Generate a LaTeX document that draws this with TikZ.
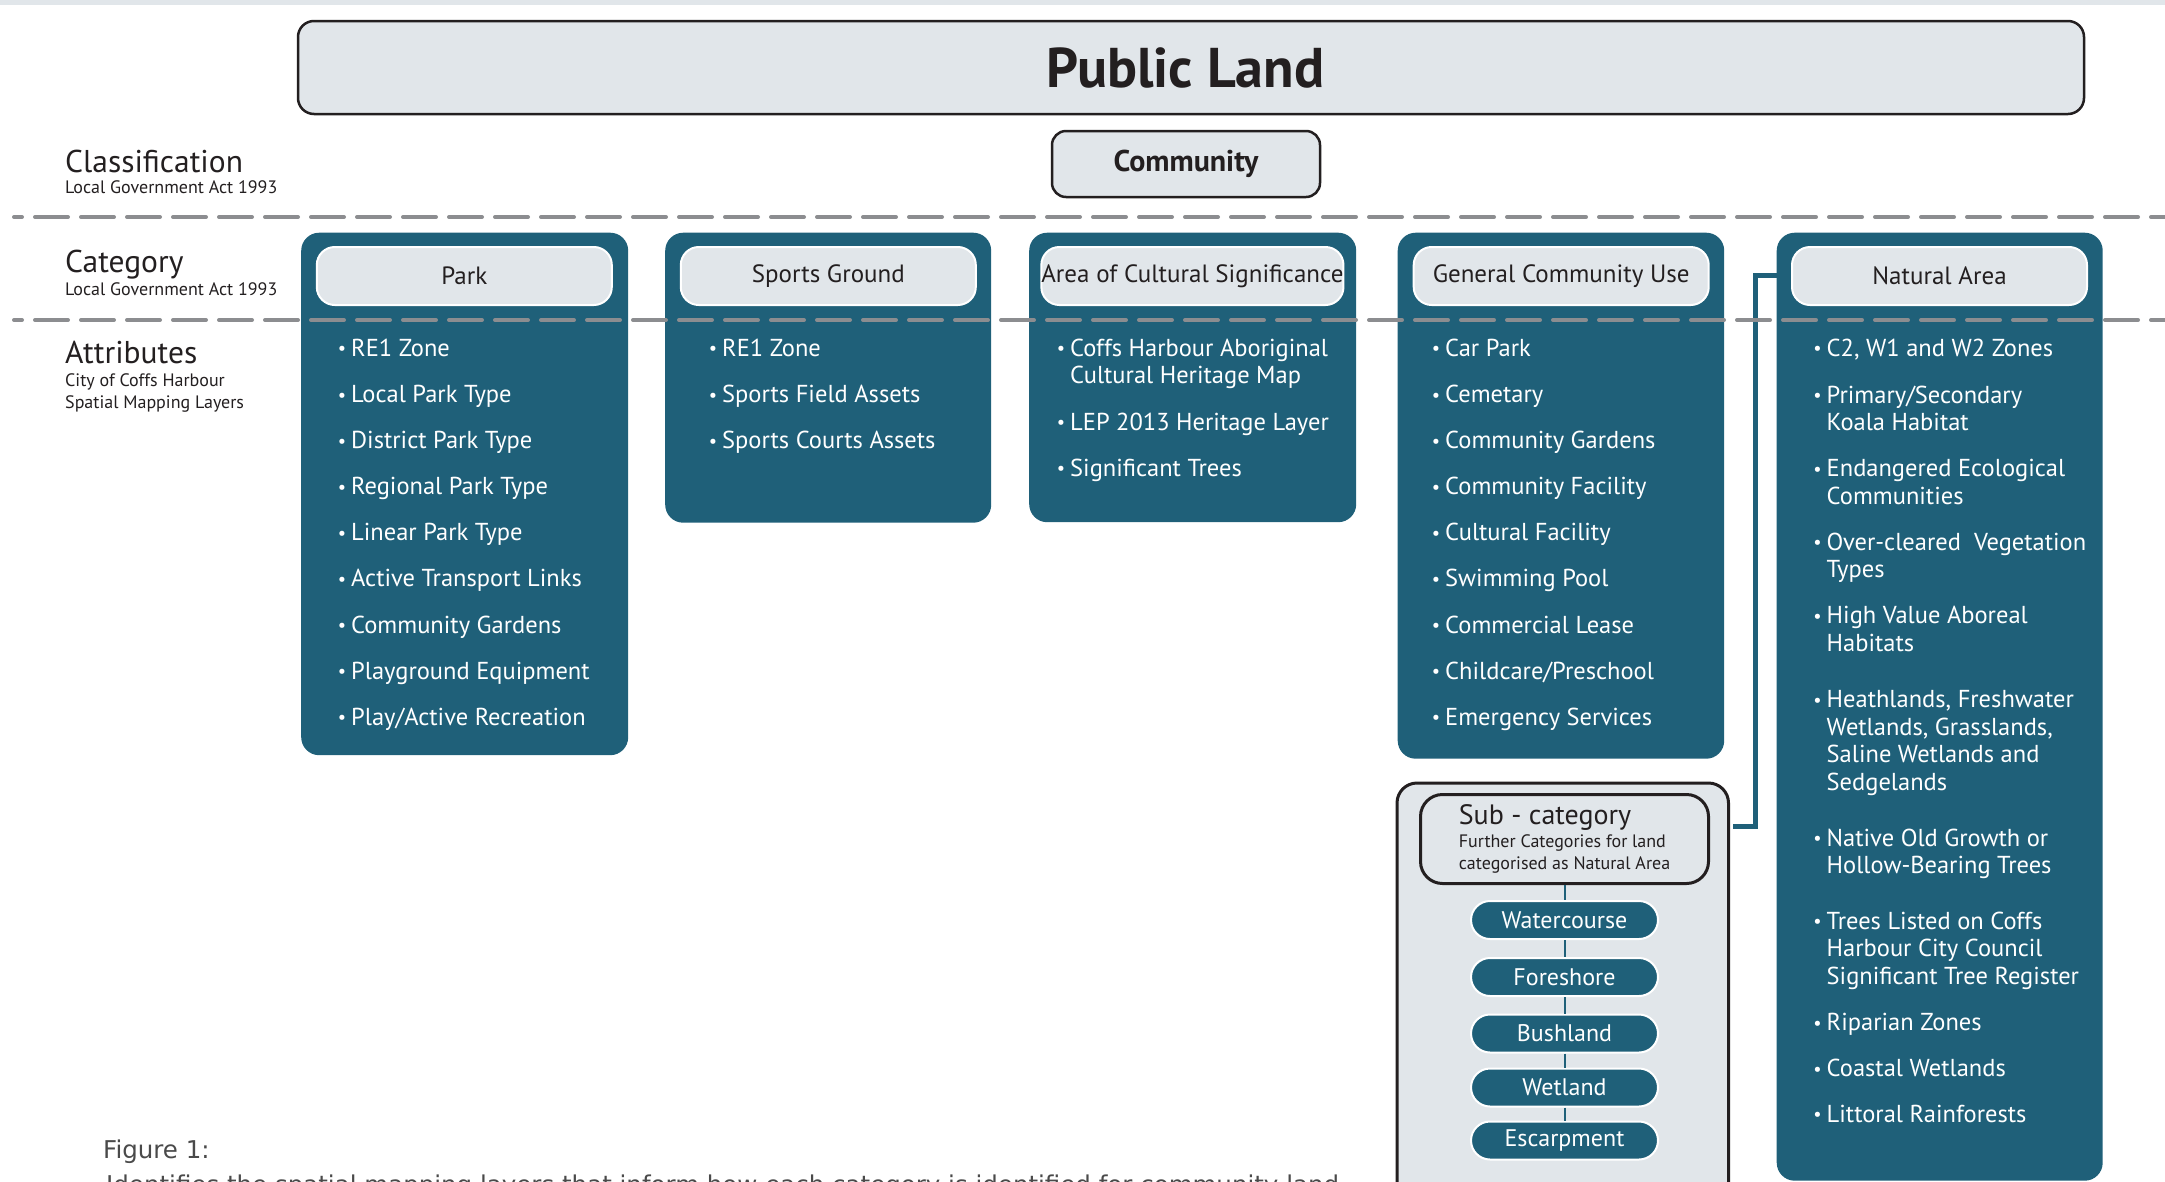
\documentclass[tikz,border=0pt]{standalone}
\usepackage{fontspec}
\usepackage{graphicx}
\setmainfont{PT Sans}
\newfontfamily\captionfont{DejaVu Sans}

\definecolor{deepteal}{HTML}{1F6079}
\definecolor{paleg}{HTML}{E1E6EA}
\definecolor{inkdark}{HTML}{231F20}
\definecolor{dashgrey}{HTML}{8C8D90}
\definecolor{capgrey}{HTML}{4A4A4A}

% small bullet hung to the left of the first line of an item
\newcommand\bul{\llap{\raisebox{1.5pt}{\scalebox{0.75}{\textbullet}}\hspace{5pt}}}

\tikzset{
  lightbox/.style={draw=inkdark, line width=2.5pt, fill=paleg, rounded corners=16pt,
    inner sep=0pt, text=inkdark},
  catbox/.style={fill=deepteal, rounded corners=18pt, inner sep=0pt, anchor=north west},
  headbox/.style={draw=white, line width=2pt, fill=paleg, rounded corners=18pt,
    minimum width=295pt, minimum height=58pt, inner sep=0pt, text=inkdark,
    font=\fontsize{25}{30}\selectfont},
  % multi-line items are placed at the baseline of their last line
  item/.style={anchor=base west, inner sep=0pt, text=white, align=left,
    font=\fontsize{24.5}{27.5}\selectfont},
  sidehead/.style={anchor=base west, inner sep=0pt, text=inkdark,
    font=\fontsize{31.5}{36}\selectfont},
  sidenote/.style={anchor=base west, inner sep=0pt, text=inkdark,
    font=\fontsize{18}{22}\selectfont},
  pill/.style={draw=white, line width=2pt, fill=deepteal, rounded corners=19pt,
    minimum width=187pt, minimum height=38pt, inner sep=0pt, text=white,
    font=\fontsize{24}{28}\selectfont},
  divider/.style={dashgrey, line width=4pt, line cap=round,
    dash pattern=on 33pt off 13pt, dash phase=25pt},
  link/.style={deepteal, line width=5pt},
  chain/.style={deepteal, line width=2pt},
  capt/.style={anchor=base west, inner sep=0pt, text=capgrey,
    font=\captionfont\fontsize{24.5}{30}\selectfont},
}

\begin{document}
\begin{tikzpicture}[x=1pt,y=-1pt]
\path[use as bounding box] (0,0) rectangle (2165,1181);
\clip (0,0) rectangle (2165,1181);

% thin band along the top edge
\fill[paleg] (0,0) rectangle (2165,5);

% title and classification
\node[lightbox, minimum width=1786pt, minimum height=93pt,
  font=\fontsize{56}{62}\selectfont\bfseries] (pub) at (1191,67.5) {\hspace*{-11pt}Public Land};
\node[lightbox, minimum width=268pt, minimum height=66pt, rounded corners=14pt,
  font=\fontsize{30}{34}\selectfont\bfseries] (comm) at (1186,164) {Community};

% row labels on the left
\node[sidehead] (lblclass) at (65,172) {Classification};
\node[sidenote] (lblclassnote) at (65,193) {Local Government Act 1993};
\node[sidehead] (lblcat) at (65,272) {Category};
\node[sidenote] (lblcatnote) at (65,295) {Local Government Act 1993};
\node[sidehead] (lblattr) at (65,363) {Attributes};
\node[sidenote, align=left] (lblattrnote) at (65,408)
  {City of Coffs Harbour\\Spatial Mapping Layers};

% category columns
\node[catbox, minimum width=327pt, minimum height=522.5pt] (parkbox) at (301,232.5) {};
\node[catbox, minimum width=326pt, minimum height=290pt] (sportbox) at (665,232.5) {};
\node[catbox, minimum width=327pt, minimum height=289.5pt] (areabox) at (1029,232.5) {};
\node[catbox, minimum width=326.5pt, minimum height=526pt] (gcubox) at (1397.5,232.5) {};
\node[catbox, minimum width=326pt, minimum height=948pt] (natbox) at (1776.5,232.5) {};

\node[headbox] (parkhd) at (464.3,276) {Park};
\node[headbox] (sporthd) at (828.3,276) {Sports Ground};
\node[headbox] (areahd) at (1192.4,276) {Area of Cultural Significance};
\node[headbox] (gcuhd) at (1561.2,276) {General Community Use};
\node[headbox] (nathd) at (1939.5,276) {Natural Area};

% attribute lists
\foreach \t [count=\i from 0] in {RE1 Zone, Local Park Type, District Park Type,
    Regional Park Type, Linear Park Type, Active Transport Links, Community Gardens,
    Playground Equipment, Play/Active Recreation}
  \node[item] (park\i) at (351,{356.4+46.1*\i}) {\bul\t};

\foreach \t [count=\i from 0] in {RE1 Zone, Sports Field Assets, Sports Courts Assets}
  \node[item] (sport\i) at (722,{356.4+46.1*\i}) {\bul\t};

\node[item] (area0) at (1070,383.5) {\bul Coffs Harbour Aboriginal\\Cultural Heritage Map};
\node[item] (area1) at (1070,430) {\bul LEP 2013 Heritage Layer};
\node[item] (area2) at (1070,476) {\bul Significant Trees};

\foreach \t [count=\i from 0] in {Car Park, Cemetary, Community Gardens,
    Community Facility, Cultural Facility, Swimming Pool, Commercial Lease,
    Childcare/Preschool, Emergency Services}
  \node[item] (gcu\i) at (1445,{356.4+46.1*\i}) {\bul\t};

\node[item] (nat0) at (1826.5,356.4) {\bul C2, W1 and W2 Zones};
\node[item] (nat1) at (1826.5,430.7) {\bul Primary/Secondary\\Koala Habitat};
\node[item] (nat2) at (1826.5,504) {\bul Endangered Ecological\\Communities};
\node[item] (nat3) at (1826.5,577.5) {\bul Over-cleared\ \ Vegetation\\Types};
\node[item] (nat4) at (1826.5,651) {\bul High Value Aboreal\\Habitats};
\node[item] (nat5) at (1826.5,790) {\bul Heathlands, Freshwater\\Wetlands, Grasslands,\\Saline Wetlands and\\Sedgelands};
\node[item] (nat6) at (1826.5,873.5) {\bul Native Old Growth or\\Hollow-Bearing Trees};
\node[item] (nat7) at (1826.5,984) {\bul Trees Listed on Coffs\\Harbour City Council\\Significant Tree Register};
\node[item] (nat8) at (1826.5,1030.7) {\bul Riparian Zones};
\node[item] (nat9) at (1826.5,1076.7) {\bul Coastal Wetlands};
\node[item] (nat10) at (1826.5,1122) {\bul Littoral Rainforests};

% natural area sub-categories
\node[lightbox, anchor=north west, line width=3pt, rounded corners=20pt,
  minimum width=331.5pt, minimum height=420pt] (subouter) at (1395.5,781.5) {};
\node[lightbox, line width=3pt, rounded corners=22pt, minimum width=288pt,
  minimum height=89pt, align=left, font=\fontsize{18}{22}\selectfont] (subhead) at (1564.5,839)
  {{\fontsize{28}{28}\selectfont Sub - category}\\[1pt]Further Categories for land\\categorised as Natural Area};

\node[pill] (wc) at (1564.5,920) {Watercourse};
\node[pill] (fs) at (1564.5,977) {Foreshore};
\node[pill] (bl) at (1564.5,1033.5) {Bushland};
\node[pill] (wl) at (1564.5,1087.5) {Wetland};
\node[pill] (es) at (1564.5,1140.5) {Escarpment};
\draw[chain] (subhead) -- (wc) -- (fs) -- (bl) -- (wl) -- (es);

% link from the natural area column to its sub-categories
\coordinate (bendlow) at (1755.5,826);
\coordinate (bendhigh) at (1755.5,275.5);
\draw[link, shorten <=3pt] (subouter.east |- bendlow) -- (bendlow) -- (bendhigh)
  -- (natbox.west |- bendhigh);

% row dividers
\draw[divider] (14,217) -- (2165,217);
\draw[divider] (14,320) -- (2165,320);

% caption
\node[capt] (figlbl) at (103,1158) {Figure 1:};
\node[capt] (figtext) at (106,1193) {Identifies the spatial mapping layers that inform how each category is identified for community land};
\end{tikzpicture}
\end{document}
